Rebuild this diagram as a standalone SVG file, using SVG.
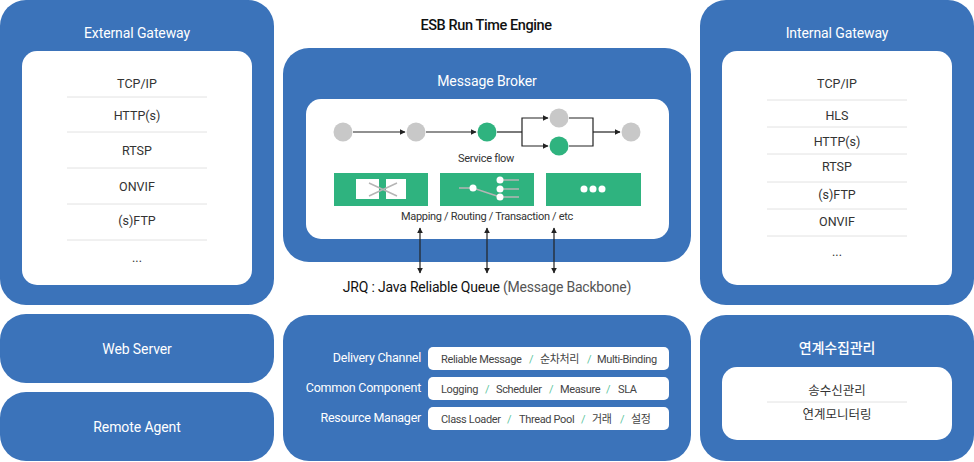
<svg xmlns="http://www.w3.org/2000/svg" width="974" height="462" viewBox="0 0 974 462">
<defs>
<style>
.blue{fill:#3b73ba}
.white{fill:#fff}
.t{font-family:Roboto,"Noto Sans CJK KR","Liberation Sans",sans-serif}
.title{font-size:14px;fill:#fff;text-anchor:middle;letter-spacing:-0.1px}
.item{font-size:12.5px;fill:#333;text-anchor:middle}
.sep{stroke:#e2e2e2;stroke-width:1}
.lbl{font-size:12.5px;fill:#fff;text-anchor:end;letter-spacing:-0.25px}
.pill{font-size:11px;fill:#444;letter-spacing:-0.35px}
.tight{letter-spacing:-0.3px}
.sl{fill:#5cc6a0}
.gc{fill:#c8c8c8}
.gr{fill:#2fb37f}
.fl{stroke:#222;stroke-width:1.2;fill:none}
.gl{stroke:#b5b5b5;stroke-width:1.5;fill:none}
.da{stroke:#222;stroke-width:1.2}
</style>
<marker id="ah" viewBox="0 0 10 10" refX="9" refY="5" markerWidth="6" markerHeight="6" orient="auto-start-reverse" markerUnits="userSpaceOnUse">
<path d="M0,0 L10,5 L0,10 z" fill="#222"/>
</marker>
</defs>
<rect width="974" height="462" fill="#fff"/>

<g id="external-gateway" class="t">
<rect class="blue" x="0" y="0" width="274" height="305" rx="26"/>
<rect class="white" x="22" y="51" width="230" height="234" rx="15"/>
<text class="title" x="137" y="38">External Gateway</text>
<text class="item" x="137" y="88">TCP/IP</text>
<line class="sep" x1="67" y1="97" x2="207" y2="97"/>
<text class="item" x="137" y="120">HTTP(s)</text>
<line class="sep" x1="67" y1="132" x2="207" y2="132"/>
<text class="item" x="137" y="155">RTSP</text>
<line class="sep" x1="67" y1="168" x2="207" y2="168"/>
<text class="item" x="137" y="191">ONVIF</text>
<line class="sep" x1="67" y1="204" x2="207" y2="204"/>
<text class="item" x="137" y="225">(s)FTP</text>
<line class="sep" x1="67" y1="240" x2="207" y2="240"/>
<text class="item" x="137" y="262">...</text>
</g>

<g id="web-server" class="t">
<rect class="blue" x="0" y="314" width="274" height="69" rx="26"/>
<text class="title" x="137" y="354">Web Server</text>
</g>

<g id="remote-agent" class="t">
<rect class="blue" x="0" y="392" width="274" height="69" rx="26"/>
<text class="title" x="137" y="432">Remote Agent</text>
</g>

<g id="esb-title" class="t">
<text x="486" y="30" font-size="14.5" font-weight="500" fill="#111" text-anchor="middle" letter-spacing="-0.4">ESB Run Time Engine</text>
</g>

<g id="message-broker" class="t">
<rect class="blue" x="283" y="48" width="408" height="214" rx="26"/>
<rect class="white" x="306" y="99" width="363" height="140" rx="15"/>
<text class="title" x="487" y="86">Message Broker</text>
<circle class="gc" cx="343" cy="132" r="9.5"/>
<circle class="gc" cx="416" cy="132" r="9.5"/>
<circle class="gr" cx="487" cy="132" r="9.5"/>
<circle class="gc" cx="559" cy="118" r="9.5"/>
<circle class="gr" cx="559" cy="146" r="9.5"/>
<circle class="gc" cx="631" cy="132" r="9.5"/>
<text class="tight" x="486" y="162" font-size="11" fill="#333" text-anchor="middle">Service flow</text>
<rect class="gr" x="334" y="173" width="94" height="33"/>
<rect class="gr" x="440" y="173" width="94" height="33"/>
<rect class="gr" x="546" y="173" width="95" height="33"/>
<rect class="white" x="356" y="179" width="23" height="20"/>
<rect class="white" x="386" y="179" width="20" height="20"/>
<path class="gl" d="M369,183 L397,196 M369,196 L397,183"/>
<path class="gl" d="M459,188 L473,188 L500,197 M500,180 L519,180 M500,189 L519,189 M500,197 L519,197"/>
<circle class="white" cx="473" cy="188" r="3.5"/>
<circle class="white" cx="500" cy="180" r="3.5"/>
<circle class="white" cx="500" cy="189" r="3.5"/>
<circle class="white" cx="500" cy="197" r="3.5"/>
<circle class="white" cx="584" cy="189" r="3.5"/>
<circle class="white" cx="593" cy="189" r="3.5"/>
<circle class="white" cx="602" cy="189" r="3.5"/>
<text class="tight" x="487" y="220" font-size="11" fill="#333" text-anchor="middle">Mapping / Routing / Transaction / etc</text>
</g>

<g id="jrq" class="t">
<text x="487" y="292" font-size="14" text-anchor="middle" letter-spacing="-0.2"><tspan fill="#111">JRQ : Java Reliable Queue </tspan><tspan fill="#555">(Message Backbone)</tspan></text>
</g>

<g id="components" class="t">
<rect class="blue" x="283" y="315" width="408" height="146" rx="26"/>
<text class="lbl" x="421" y="362">Delivery Channel</text>
<text class="lbl" x="421" y="392">Common Component</text>
<text class="lbl" x="421" y="422">Resource Manager</text>
<rect class="white" x="428" y="347" width="241" height="23" rx="5"/>
<rect class="white" x="428" y="377" width="241" height="23" rx="5"/>
<rect class="white" x="428" y="407" width="241" height="23" rx="5"/>
<text class="pill" y="363"><tspan x="441">Reliable Message</tspan><tspan class="sl" x="529">/</tspan><tspan x="540">순차처리</tspan><tspan class="sl" x="587">/</tspan><tspan x="597">Multi-Binding</tspan></text>
<text class="pill" y="393"><tspan x="441">Logging</tspan><tspan class="sl" x="485">/</tspan><tspan x="496">Scheduler</tspan><tspan class="sl" x="549">/</tspan><tspan x="560">Measure</tspan><tspan class="sl" x="606">/</tspan><tspan x="618">SLA</tspan></text>
<text class="pill" y="423"><tspan x="441">Class Loader</tspan><tspan class="sl" x="507">/</tspan><tspan x="519">Thread Pool</tspan><tspan class="sl" x="581">/</tspan><tspan x="592">거래</tspan><tspan class="sl" x="620">/</tspan><tspan x="631">설정</tspan></text>
</g>

<g id="internal-gateway" class="t">
<rect class="blue" x="700" y="0" width="274" height="305" rx="26"/>
<rect class="white" x="722" y="51" width="230" height="234" rx="15"/>
<text class="title" x="837" y="38">Internal Gateway</text>
<text class="item" x="837" y="88">TCP/IP</text>
<line class="sep" x1="767" y1="100" x2="907" y2="100"/>
<text class="item" x="837" y="120">HLS</text>
<line class="sep" x1="767" y1="127" x2="907" y2="127"/>
<text class="item" x="837" y="146">HTTP(s)</text>
<line class="sep" x1="767" y1="154" x2="907" y2="154"/>
<text class="item" x="837" y="171">RTSP</text>
<line class="sep" x1="767" y1="182" x2="907" y2="182"/>
<text class="item" x="837" y="199">(s)FTP</text>
<line class="sep" x1="767" y1="209" x2="907" y2="209"/>
<text class="item" x="837" y="226">ONVIF</text>
<line class="sep" x1="767" y1="236" x2="907" y2="236"/>
<text class="item" x="837" y="256">...</text>
</g>

<g id="integration-mgmt" class="t">
<rect class="blue" x="700" y="315" width="274" height="146" rx="26"/>
<rect class="white" x="722" y="367" width="230" height="73" rx="15"/>
<text class="title" x="837" y="353" font-size="15" font-weight="500">연계수집관리</text>
<text class="item" x="837" y="395">송수신관리</text>
<line class="sep" x1="767" y1="402" x2="907" y2="402"/>
<text class="item" x="837" y="419">연계모니터링</text>
</g>

<g id="connectors">
<line class="fl" x1="353" y1="132" x2="405" y2="132" marker-end="url(#ah)"/>
<line class="fl" x1="426" y1="132" x2="476" y2="132" marker-end="url(#ah)"/>
<path class="fl" d="M497,132 H522"/>
<path class="fl" d="M548,118 H522 V146 H548" marker-start="url(#ah)" marker-end="url(#ah)"/>
<path class="fl" d="M569,118 H593 V146 H569"/>
<line class="fl" x1="593" y1="132" x2="620" y2="132" marker-end="url(#ah)"/>
<line class="da" x1="420" y1="228" x2="420" y2="273" marker-start="url(#ah)" marker-end="url(#ah)"/>
<line class="da" x1="487" y1="228" x2="487" y2="273" marker-start="url(#ah)" marker-end="url(#ah)"/>
<line class="da" x1="554" y1="228" x2="554" y2="273" marker-start="url(#ah)" marker-end="url(#ah)"/>
</g>
</svg>
